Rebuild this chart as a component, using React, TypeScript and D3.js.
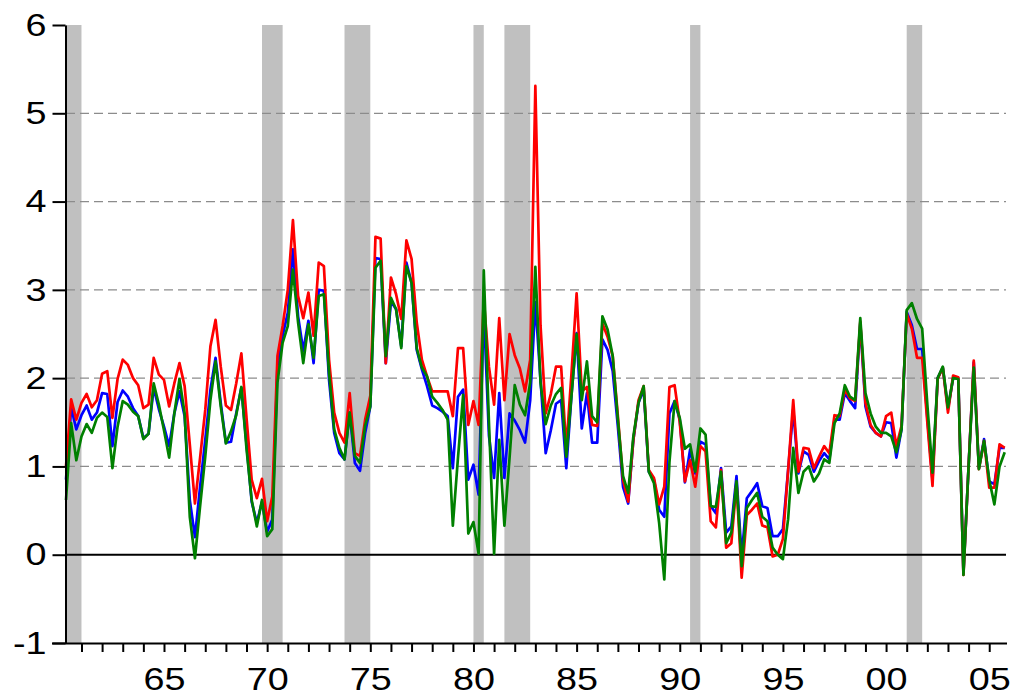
import { useEffect, useRef } from "react";
import * as d3 from "d3";

// quarterly observations, first one at 1960.25
const firstQuarter = 1960.25;

const redSeries = [
  1.0, 1.76, 1.53, 1.72, 1.82, 1.67, 1.75, 2.05, 2.08, 1.55,
  1.99, 2.21, 2.15, 2.0, 1.92, 1.66, 1.7, 2.23, 2.04, 1.98,
  1.68, 1.94, 2.17, 1.91, 1.25, 0.58, 1.1, 1.64, 2.36, 2.66,
  2.13, 1.69, 1.64, 1.94, 2.28, 1.55, 0.85, 0.64, 0.86, 0.38,
  0.66, 2.25, 2.59, 3.0, 3.79, 2.93, 2.68, 2.97, 2.48, 3.31,
  3.27, 2.21, 1.61, 1.38, 1.27, 1.83, 1.15, 1.12, 1.53, 1.8,
  3.6, 3.58, 2.17, 3.14, 2.95, 2.67, 3.56, 3.35, 2.63, 2.21,
  2.02, 1.85, 1.85, 1.85, 1.85, 1.57, 2.34, 2.34, 1.47, 1.74,
  1.47, 2.9, 2.13, 1.7, 2.68, 1.75, 2.5, 2.26, 2.11, 1.85,
  2.21, 5.31, 2.6, 1.6, 1.82, 2.13, 2.13, 1.2, 2.05, 2.96,
  1.85, 1.9, 1.47, 1.46, 2.62, 2.47, 2.25, 1.57, 0.85, 0.6,
  1.3, 1.75, 1.91, 0.96, 0.87, 0.57, 0.77, 1.9, 1.92, 1.5,
  0.83, 1.07, 0.77, 1.23, 1.17, 0.38, 0.31, 0.96, 0.08, 0.13,
  0.81, -0.26, 0.45, 0.51, 0.58, 0.33, 0.31, -0.02, 0.0, 0.18,
  0.95, 1.75, 0.94, 1.21, 1.2, 0.98, 1.11, 1.23, 1.15, 1.58,
  1.57, 1.87, 1.77, 1.74, 2.64, 1.72, 1.47, 1.38, 1.34, 1.57,
  1.61, 1.23, 1.46, 2.73, 2.56, 2.23, 2.23, 1.5, 0.78, 1.99,
  2.12, 1.61, 2.03, 2.01, -0.23, 1.0, 2.2, 0.97, 1.29, 0.76,
  0.76, 1.25, 1.21,
];

const blueSeries = [
  0.85, 1.67, 1.42, 1.58, 1.69, 1.53, 1.61, 1.83, 1.82, 1.23,
  1.73, 1.86, 1.79, 1.66, 1.57, 1.32, 1.37, 1.89, 1.65, 1.45,
  1.23, 1.6, 1.85, 1.57, 0.62, 0.2, 0.77, 1.3, 1.87, 2.23,
  1.72, 1.27, 1.28, 1.6, 1.89, 1.25, 0.6, 0.36, 0.6, 0.26,
  0.4, 2.14, 2.48, 2.74, 3.46, 2.7, 2.31, 2.65, 2.17, 3.0,
  2.99, 1.98, 1.38, 1.15, 1.08, 1.61, 1.04, 0.95, 1.38, 1.68,
  3.36, 3.35, 2.17, 2.87, 2.78, 2.36, 3.31, 3.08, 2.32, 2.1,
  1.91, 1.69, 1.66, 1.62, 1.57, 0.98, 1.79, 1.87, 0.85, 1.02,
  0.68, 2.8, 1.35, 0.87, 1.83, 0.87, 1.6, 1.52, 1.41, 1.27,
  1.75, 2.86, 1.98, 1.15, 1.41, 1.71, 1.75, 0.98, 1.8, 2.51,
  1.43, 1.83, 1.27, 1.27, 2.44, 2.32, 2.08, 1.45, 0.77, 0.58,
  1.3, 1.72, 1.87, 0.94, 0.85, 0.51, 0.43, 1.6, 1.74, 1.53,
  0.82, 1.19, 0.92, 1.28, 1.25, 0.55, 0.47, 0.98, 0.25, 0.32,
  0.89, -0.02, 0.64, 0.72, 0.81, 0.55, 0.53, 0.21, 0.21, 0.29,
  0.95, 1.65, 0.92, 1.17, 1.13, 0.94, 1.06, 1.15, 1.08, 1.53,
  1.53, 1.83, 1.74, 1.66, 2.62, 1.68, 1.45, 1.38, 1.34, 1.5,
  1.49, 1.1, 1.42, 2.75, 2.6, 2.33, 2.33, 1.55, 0.85, 2.0,
  2.12, 1.65, 2.0, 2.0, -0.21, 1.0, 2.18, 0.98, 1.31, 0.83,
  0.8, 1.21, 1.21,
];

const greenSeries = [
  0.62, 1.49, 1.07, 1.34, 1.48, 1.38, 1.55, 1.61, 1.56, 0.98,
  1.45, 1.74, 1.7, 1.62, 1.57, 1.31, 1.37, 1.94, 1.7, 1.41,
  1.1, 1.6, 1.99, 1.6, 0.43, -0.04, 0.55, 1.11, 1.75, 2.19,
  1.68, 1.26, 1.4, 1.58, 1.9, 1.2, 0.62, 0.32, 0.62, 0.21,
  0.29, 1.95, 2.4, 2.59, 3.23, 2.63, 2.17, 2.61, 2.23, 2.93,
  2.95, 2.06, 1.42, 1.21, 1.08, 1.61, 1.12, 1.04, 1.46, 1.68,
  3.25, 3.33, 2.25, 2.91, 2.78, 2.34, 3.27, 3.08, 2.34, 2.12,
  2.02, 1.79, 1.72, 1.64, 1.53, 0.33, 1.1, 1.81, 0.24, 0.37,
  0.01, 3.22, 1.5, 0.01, 1.3, 0.33, 1.1, 1.92, 1.7, 1.58,
  1.95, 3.26, 1.95, 1.48, 1.69, 1.82, 1.89, 1.11, 1.8, 2.5,
  1.75, 2.19, 1.57, 1.5, 2.7, 2.55, 2.25, 1.53, 0.89, 0.7,
  1.34, 1.72, 1.91, 0.94, 0.81, 0.36, -0.28, 1.05, 1.74, 1.55,
  1.2, 1.25, 0.94, 1.43, 1.36, 0.55, 0.54, 0.94, 0.13, 0.25,
  0.83, -0.13, 0.53, 0.62, 0.7, 0.43, 0.38, 0.08, 0.0, -0.05,
  0.4, 1.21, 0.7, 0.94, 1.0, 0.83, 0.92, 1.08, 1.04, 1.49,
  1.6, 1.92, 1.79, 1.75, 2.68, 1.83, 1.6, 1.45, 1.38, 1.38,
  1.34, 1.16, 1.42, 2.77, 2.85, 2.67, 2.56, 1.7, 0.93, 2.0,
  2.13, 1.67, 2.0, 1.99, -0.23, 1.0, 2.12, 0.97, 1.29, 0.85,
  0.57, 1.0, 1.16,
];

// recession shading (start, end) in years
const recessions = [
  [1960.25, 1961.0],
  [1969.75, 1970.75],
  [1973.75, 1975.0],
  [1980.0, 1980.5],
  [1981.5, 1982.75],
  [1990.5, 1991.0],
  [2001.0, 2001.75],
];

const yTicks = [-1, 0, 1, 2, 3, 4, 5, 6];
const gridValues = [1, 2, 3, 4, 5];
const yearTicks = d3.range(1961, 2006);
const yearLabels = [1965, 1970, 1975, 1980, 1985, 1990, 1995, 2000, 2005];

const W = 1016;
const H = 698;
const font = "'Liberation Sans', Arial, sans-serif";

const App = () => {
  const svgRef = useRef<SVGSVGElement>(null);

  useEffect(() => {
    const svg = d3.select(svgRef.current);
    svg.selectAll("*").remove();

    const xScale = d3.scaleLinear().domain([1960.25, 2005.75]).range([66, 1004.7]);
    const yScale = d3.scaleLinear().domain([-1, 6]).range([643, 25]);

    // recession bands
    svg
      .append("g")
      .selectAll("rect")
      .data(recessions)
      .join("rect")
      .attr("x", (d) => xScale(d[0]))
      .attr("width", (d) => xScale(d[1]) - xScale(d[0]))
      .attr("y", yScale(6))
      .attr("height", yScale(-1) - yScale(6))
      .attr("fill", "#c0c0c0");

    // dashed grid
    svg
      .append("g")
      .selectAll("line")
      .data(gridValues)
      .join("line")
      .attr("x1", xScale.range()[0])
      .attr("x2", 1006)
      .attr("y1", (d) => yScale(d))
      .attr("y2", (d) => yScale(d))
      .attr("stroke", "#8c8c8c")
      .attr("stroke-width", 1.3)
      .attr("stroke-dasharray", "9,5");

    // zero line
    svg
      .append("line")
      .attr("x1", xScale.range()[0])
      .attr("x2", 1006)
      .attr("y1", yScale(0))
      .attr("y2", yScale(0))
      .attr("stroke", "#000")
      .attr("stroke-width", 2);

    const line = d3
      .line<number>()
      .x((_, i) => xScale(firstQuarter + i / 4))
      .y((d) => yScale(d));

    const series = [
      { values: blueSeries, color: "#0000ff" },
      { values: redSeries, color: "#ff0000" },
      { values: greenSeries, color: "#008000" },
    ];
    svg
      .append("g")
      .selectAll("path")
      .data(series)
      .join("path")
      .attr("d", (d) => line(d.values))
      .attr("fill", "none")
      .attr("stroke", (d) => d.color)
      .attr("stroke-width", 2.7)
      .attr("stroke-linejoin", "round");

    // axes
    const yAxis = d3
      .axisLeft(yScale)
      .tickValues(yTicks)
      .tickSize(13)
      .tickSizeOuter(0)
      .tickFormat((d) => String(d));
    const gy = svg.append("g").attr("transform", "translate(65.5,0)").call(yAxis);

    const xAxis = d3
      .axisBottom(xScale)
      .tickValues(yearTicks)
      .tickSize(9)
      .tickSizeOuter(0)
      .tickPadding(15)
      .tickFormat((d) =>
        yearLabels.includes(d as number) ? String(d).slice(2) : ""
      );
    const gx = svg.append("g").attr("transform", `translate(0,${yScale(-1)})`).call(xAxis);
    gx.select(".domain").attr("d", `M52,0.5H1007`);

    [gx, gy].forEach((g) => {
      g.selectAll("path, line").attr("stroke", "#000").attr("stroke-width", 2);
      g.selectAll("text")
        .attr("fill", "#000")
        .style("font-family", font)
        .style("font-size", "32px");
    });

    // the original labels are drawn wider than plain Arial
    gy.selectAll("text").attr("x", null).attr("transform", "translate(-19,0) scale(1.18,1)");
    gx.selectAll("text").attr("transform", "scale(1.18,1)");
  }, []);

  return (
    <svg
      ref={svgRef}
      width={W}
      height={H}
      style={{ position: "absolute", left: 0, top: 0, background: "#fff" }}
    ></svg>
  );
};

export default App;
